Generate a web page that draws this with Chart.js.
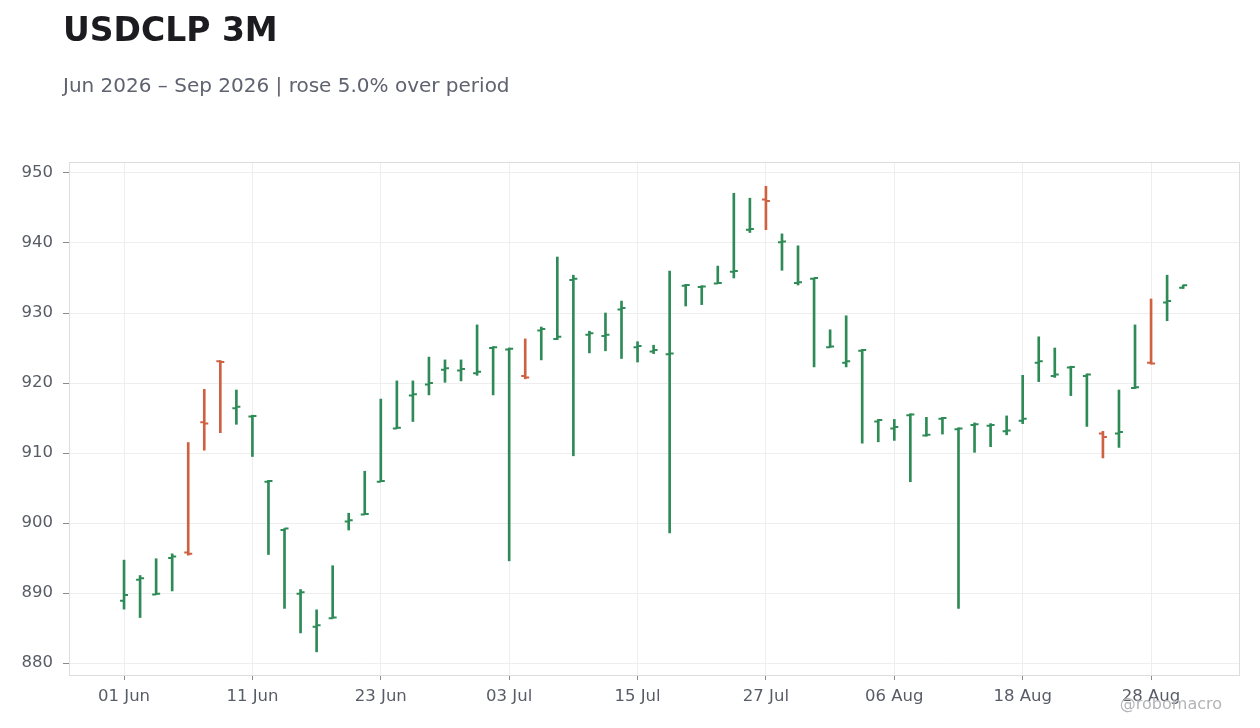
<!DOCTYPE html>
<html>
<head>
<meta charset="utf-8">
<script src="https://cdn.jsdelivr.net/npm/chart.js@4.4.1/dist/chart.umd.min.js"></script>
<style>
  html, body { margin: 0; padding: 0; background: #fff; }
  #wrap { position: relative; width: 1260px; height: 728px; overflow: hidden; font-family: "DejaVu Sans", sans-serif; }
  #title { position: absolute; left: 63px; top: 13px; font-size: 33px; line-height: 1; font-weight: bold; color: #1b1b20; white-space: nowrap; }
  #sub { position: absolute; left: 63px; top: 75px; font-size: 20px; line-height: 1; color: #5f6370; white-space: nowrap; }
  #mark { position: absolute; right: 38px; top: 696px; font-size: 16px; line-height: 1; color: #b4b4b8; white-space: nowrap; }
  canvas { position: absolute; left: 0; top: 0; }
</style>
</head>
<body>
<div id="wrap">
  <canvas id="chart" width="1260" height="728" style="width:1260px;height:728px"></canvas>
  <div id="title">USDCLP 3M</div>
  <div id="sub">Jun 2026 – Sep 2026 | rose 5.0% over period</div>
  <div id="mark">@robomacro</div>
</div>
<script>
// business days, Jun 1 2026 .. Sep 1 2026
const dates = [
  '2026-06-01', '2026-06-02', '2026-06-03', '2026-06-04', '2026-06-05',
  '2026-06-08', '2026-06-09', '2026-06-10', '2026-06-11', '2026-06-12',
  '2026-06-15', '2026-06-16', '2026-06-17', '2026-06-18', '2026-06-19',
  '2026-06-22', '2026-06-23', '2026-06-24', '2026-06-25', '2026-06-26',
  '2026-06-29', '2026-06-30', '2026-07-01', '2026-07-02', '2026-07-03',
  '2026-07-06', '2026-07-07', '2026-07-08', '2026-07-09', '2026-07-10',
  '2026-07-13', '2026-07-14', '2026-07-15', '2026-07-16', '2026-07-17',
  '2026-07-20', '2026-07-21', '2026-07-22', '2026-07-23', '2026-07-24',
  '2026-07-27', '2026-07-28', '2026-07-29', '2026-07-30', '2026-07-31',
  '2026-08-03', '2026-08-04', '2026-08-05', '2026-08-06', '2026-08-07',
  '2026-08-10', '2026-08-11', '2026-08-12', '2026-08-13', '2026-08-14',
  '2026-08-17', '2026-08-18', '2026-08-19', '2026-08-20', '2026-08-21',
  '2026-08-24', '2026-08-25', '2026-08-26', '2026-08-27', '2026-08-28',
  '2026-08-31', '2026-09-01',
]

const opens = [
  888.9, 891.9, 889.8, 895.0, 895.8, 914.4, 923.1, 916.4, 915.2, 905.9,
  899.0, 889.9, 885.2, 886.4, 900.2, 901.2, 905.9, 913.5, 918.2, 919.8,
  921.9, 921.8, 921.4, 925.0, 924.8, 921.0, 927.5, 926.3, 934.7, 926.9,
  926.7, 930.5, 925.1, 924.5, 924.1, 933.9, 933.7, 934.2, 935.9, 941.9,
  946.2, 940.1, 934.3, 934.9, 925.1, 922.9, 924.6, 914.5, 913.5, 915.4,
  912.5, 914.9, 913.4, 914.0, 913.9, 913.1, 914.6, 922.9, 921.0, 922.2,
  921.0, 912.8, 912.8, 919.3, 922.9, 931.5, 933.6,
]
const highs = [
  894.7, 892.5, 894.9, 895.6, 911.5, 919.1, 923.2, 919.0, 915.4, 906.1,
  899.2, 890.5, 887.6, 893.9, 901.4, 907.4, 917.7, 920.3, 920.3, 923.7,
  923.3, 923.3, 928.3, 925.2, 925.0, 926.3, 928.0, 938.0, 935.4, 927.4,
  930.0, 931.7, 925.9, 925.4, 936.0, 934.1, 933.9, 936.7, 947.1, 946.4,
  948.1, 941.3, 939.6, 935.0, 927.6, 929.6, 924.8, 914.8, 914.8, 915.6,
  915.1, 915.1, 913.6, 914.3, 914.2, 915.3, 921.1, 926.6, 925.0, 922.4,
  921.3, 913.1, 919.0, 928.3, 932.0, 935.4, 934.0,
]
const lows = [
  887.7, 886.5, 889.8, 890.3, 895.4, 910.4, 912.9, 914.1, 909.5, 895.5,
  887.8, 884.3, 881.6, 886.4, 899.0, 901.2, 905.9, 913.5, 914.5, 918.3,
  920.1, 920.3, 921.1, 918.3, 894.6, 920.6, 923.3, 926.2, 909.6, 924.3,
  924.6, 923.5, 923.0, 924.2, 898.6, 931.0, 931.2, 934.2, 935.0, 941.5,
  941.9, 936.1, 934.0, 922.3, 925.1, 922.3, 911.4, 911.6, 911.8, 905.9,
  912.4, 912.7, 887.8, 910.1, 910.9, 912.6, 914.2, 920.2, 920.8, 918.2,
  913.8, 909.3, 910.8, 919.2, 922.7, 928.9, 933.5,
]
const closes = [
  889.7, 892.1, 889.9, 895.2, 895.6, 914.2, 923.0, 916.6, 915.3, 906.0,
  899.2, 890.1, 885.4, 886.5, 900.4, 901.3, 906.0, 913.6, 918.4, 920.0,
  922.1, 922.0, 921.6, 925.1, 924.9, 920.8, 927.7, 926.6, 934.9, 927.1,
  926.9, 930.7, 925.3, 924.7, 924.2, 934.0, 933.8, 934.3, 936.0, 942.0,
  946.0, 940.2, 934.4, 935.0, 925.2, 923.1, 924.7, 914.7, 913.7, 915.5,
  912.6, 915.0, 913.5, 914.1, 914.0, 913.2, 914.9, 923.1, 921.2, 922.3,
  921.2, 912.3, 913.0, 919.4, 922.8, 931.7, 933.95,
]

const xTickIdx = [0, 8, 16, 24, 32, 40, 48, 56, 64]
const yTicks = [880, 890, 900, 910, 920, 930, 940, 950]
const months = ['Jan', 'Feb', 'Mar', 'Apr', 'May', 'Jun', 'Jul', 'Aug', 'Sep', 'Oct', 'Nov', 'Dec']

const UP = '#2e8b57'
const DOWN = '#cf6140'
const barColors = opens.map((o, i) => (closes[i] >= o ? UP : DOWN))

function fmtDate(iso) {
  const [, m, d] = iso.split('-')
  return d + ' ' + months[Number(m) - 1]
}

// open tick to the left, close tick to the right
const ohlcTicks = {
  id: 'ohlcTicks',
  afterDatasetsDraw(chart) {
    const { ctx, scales: { x, y } } = chart
    ctx.save()
    ctx.lineWidth = 2
    opens.forEach((o, i) => {
      const px = x.getPixelForValue(i)
      const yo = y.getPixelForValue(o)
      const yc = y.getPixelForValue(closes[i])
      ctx.strokeStyle = barColors[i]
      ctx.beginPath()
      ctx.moveTo(px - 4, yo)
      ctx.lineTo(px, yo)
      ctx.moveTo(px, yc)
      ctx.lineTo(px + 4, yc)
      ctx.stroke()
    })
    ctx.restore()
  },
}

const plotFrame = {
  id: 'plotFrame',
  afterDraw(chart) {
    const { ctx, chartArea: a } = chart
    ctx.save()
    ctx.strokeStyle = '#dddddd'
    ctx.lineWidth = 1
    ctx.strokeRect(Math.round(a.left) + 0.5, Math.round(a.top) + 0.5,
      Math.round(a.right - a.left), Math.round(a.bottom - a.top))
    ctx.restore()
  },
}

const tickFont = { family: '"DejaVu Sans", sans-serif', size: 16.5 }

new Chart(document.getElementById('chart'), {
  type: 'bar',
  data: {
    datasets: [{
      data: lows.map((l, i) => ({ x: i, y: [l, highs[i]] })),
      backgroundColor: barColors,
      borderWidth: 0,
      barThickness: 2,
      grouped: false,
    }],
  },
  options: {
    responsive: false,
    animation: false,
    events: [],
    layout: { padding: { top: 162, right: 21, bottom: 0, left: 0 } },
    plugins: { legend: { display: false }, tooltip: { enabled: false } },
    scales: {
      x: {
        type: 'linear',
        offset: false,
        min: -3.43,
        max: 69.48,
        afterBuildTicks: (s) => { s.ticks = xTickIdx.map((v) => ({ value: v })) },
        afterFit: (s) => { s.height = 53 },
        grid: { offset: false, color: '#eeeeee', tickColor: '#8a8a8a', tickLength: 5, drawTicks: true },
        border: { display: false },
        ticks: {
          autoSkip: false,
          maxRotation: 0,
          padding: 7,
          color: '#585c66',
          font: tickFont,
          callback: (v) => fmtDate(dates[v]),
        },
      },
      y: {
        min: 878.29,
        max: 951.57,
        afterBuildTicks: (s) => { s.ticks = yTicks.map((v) => ({ value: v })) },
        afterFit: (s) => { s.width = 69 },
        grid: { color: '#eeeeee', tickColor: '#8a8a8a', tickLength: 6, drawTicks: true },
        border: { display: false },
        ticks: { padding: 10, color: '#585c66', font: tickFont },
      },
    },
  },
  plugins: [ohlcTicks, plotFrame],
})
</script>
</body>
</html>
